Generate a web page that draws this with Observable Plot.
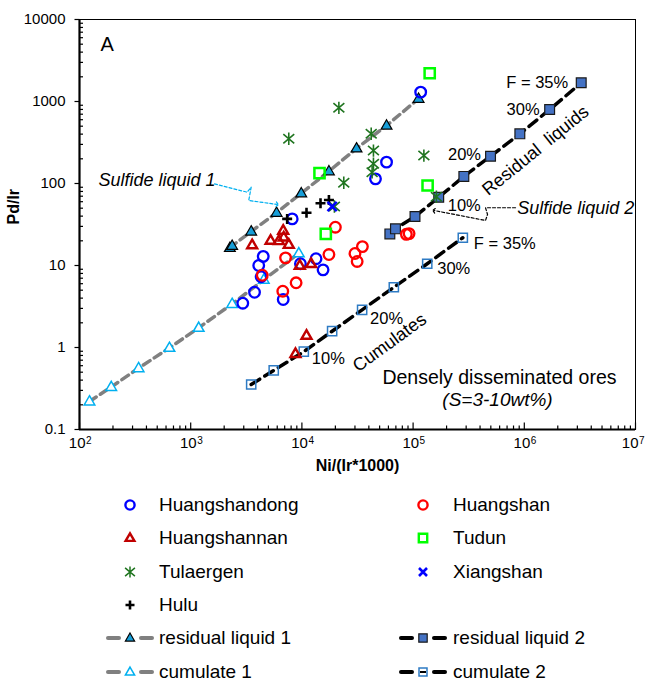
<!DOCTYPE html>
<html>
<head>
<meta charset="utf-8">
<script src="https://cdn.jsdelivr.net/npm/d3@7"></script>
<script src="https://cdn.jsdelivr.net/npm/@observablehq/plot@0.6"></script>
<style>
  html,body{margin:0;padding:0;background:#fff;}
  #wrap{position:relative;width:646px;height:682px;overflow:hidden;font-family:Arial,"Liberation Sans",Helvetica,sans-serif;}
  #chart{position:absolute;left:0;top:0;}
  #legend{position:absolute;left:0;top:485px;width:646px;height:197px;}
  .lg-sym{position:absolute;width:50px;height:30px;}
  .lg-txt{position:absolute;height:30px;line-height:30px;font-size:19px;color:#000;white-space:nowrap;}
</style>
</head>
<body>
<div id="wrap"><div id="chart"></div><div id="legend"></div></div>
<script>
// ---------- Data: x = Ni/(Ir*1000), y = Pd/Ir ----------
const huangshandongX = [8180, 117000, 57700, 45900, 4490, 4090, 4300, 3750, 2940, 6790, 9700, 13400, 15500];
const huangshandongY = [37, 1300, 182, 114, 12.9, 10, 7.3, 4.72, 3.47, 3.85, 10.5, 12.1, 8.85];
const huangshanX = [4400, 6730, 7130, 8870, 17500, 20000, 30000, 31400, 35000, 87000, 92000];
const huangshanY = [7.6, 4.86, 12.4, 6.15, 13.6, 29.3, 14, 11.2, 17, 24, 24.5];
const huangshannanX = [3570, 5230, 6200, 6860, 6790, 7620, 9570, 12100, 11000, 8750];
const huangshannanY = [17.8, 20.2, 20, 22.1, 26.7, 18, 10, 10.5, 1.4, 0.84];
const tudunX = [14400, 16400, 141000, 135000];
const tudunY = [134, 24.3, 2210, 94.6];
const tulaergenX = [7620, 21500, 23800, 19600, 42000, 44000, 44000, 42800, 125000, 162000];
const tulaergenY = [351, 837, 102, 52.5, 404, 252, 174, 137, 219, 69];
const xiangshanX = [18700];
const xiangshanY = [52.5];
const huluX = [7370, 11000, 14700, 17500];
const huluY = [37, 44, 57.5, 63];
const residual1X = [2250, 2360, 3500, 5920, 9870, 17500, 31000, 57700, 112000];
const residual1Y = [16.4, 17.4, 26, 44, 76, 141, 268, 509, 1080];
const cumulate1X = [123, 193, 340, 644, 1180, 2360, 4540, 9380];
const cumulate1Y = [0.22, 0.33, 0.56, 0.99, 1.74, 3.4, 6.7, 14.1];
const residual2X = [61800, 69400, 104000, 170000, 286000, 497000, 912000, 1690000, 3250000];
const residual2Y = [24.3, 28, 39.6, 68, 122, 215, 403, 798, 1690];
const cumulate2X = [3500, 5580, 10400, 18700, 34800, 67100, 134000, 280000];
const cumulate2Y = [0.354, 0.525, 0.89, 1.58, 2.88, 5.43, 10.5, 21.8];

// ---------- Axis ticks ----------
const xTickExponents = [2, 3, 4, 5, 6, 7];
const yTickValues = [0.1, 1, 10, 100, 1000, 10000];
const yTickLabels = ["0.1", "1", "10", "100", "1000", "10000"];

// ---------- Annotations (data space) ----------
const sulfide1Label = {text: "Sulfide liquid 1", x: 148, y: 109};
const sulfide1Arrow = [[1637, 99], [3220, 78.3], [3500, 90.2], [3325, 62.1], [6000, 55.5]];
const sulfide2Label = {text: "Sulfide liquid 2", x: 863000, y: 50.6};
const sulfide2Arrow = [[834000, 50.6], [448000, 50.6], [467000, 41.9], [448000, 35.4], [154000, 46.9]];
const residualLabel = {text: "Residual  liquids", x: 1.26e6, y: 252};
const cumulateLabel = {text: "Cumulates", x: 61400, y: 1.15};
const percentLabels = ["F = 35%", "30%", "20%", "10%"];
const residual2LabelIdx = [8, 7, 5, 3];
const cumulate2LabelIdx = [7, 6, 4, 2];

// ---------- helpers ----------
const FONT = 'Arial, "Liberation Sans", Helvetica, sans-serif';
const pts = (xs, ys) => xs.map((x, i) => ({x, y: ys[i]}));
const sym = f => ({draw(c, size) { const r = Math.sqrt(size / Math.PI); f(c, r); }});
const symTickUp = sym((c, r) => { c.moveTo(0, 0); c.lineTo(0, -r); });
const symTickLeft = sym((c, r) => { c.moveTo(0, 0); c.lineTo(-r, 0); });
const symTickRight = sym((c, r) => { c.moveTo(0, 0); c.lineTo(r, 0); });
const symStar = sym((c, r) => { const d = r * 0.88; c.moveTo(0, -r); c.lineTo(0, r); c.moveTo(-d, -d * 0.85); c.lineTo(d, d * 0.85); c.moveTo(-d, d * 0.85); c.lineTo(d, -d * 0.85); });
const symX = sym((c, r) => { c.moveTo(-r, -r); c.lineTo(r, r); c.moveTo(-r, r); c.lineTo(r, -r); });
const symPlus = sym((c, r) => { c.moveTo(-r, 0); c.lineTo(r, 0); c.moveTo(0, -r); c.lineTo(0, r); });
const symSquare = sym((c, r) => { c.rect(-r, -r, 2 * r, 2 * r); });
const symTri = sym((c, r) => { const h = r * Math.sqrt(3); c.moveTo(0, -h * 0.62); c.lineTo(r, h * 0.38); c.lineTo(-r, h * 0.38); c.closePath(); });

const xMinor = d3.range(2, 7).flatMap(e => d3.range(2, 10).map(m => m * Math.pow(10, e)));
const yMinor = d3.range(-1, 4).flatMap(e => d3.range(2, 10).map(m => m * Math.pow(10, e)));

const dots = (xs, ys, o) => Plot.dot(pts(xs, ys), {x: "x", y: "y", ...o});
const pct = (xs, ys, i, text, o) => Plot.text([text], {x: () => xs[i], y: () => ys[i], fontSize: 16.5, ...o});
const xLabelMarks = (exps, shift) => [
  Plot.text(exps, {x: d => Math.pow(10, d), frameAnchor: "bottom", text: () => "10", textAnchor: "end", dx: 6 + shift, dy: 18, fontSize: 15}),
  Plot.text(exps, {x: d => Math.pow(10, d), frameAnchor: "bottom", text: d => String(d), textAnchor: "start", dx: 6.5 + shift, dy: 14, fontSize: 10})
];

const chart = Plot.plot({
  width: 646, height: 485,
  marginLeft: 79, marginRight: 11, marginTop: 19, marginBottom: 56,
  x: {type: "log", domain: [1e2, 1e7], axis: null},
  y: {type: "log", domain: [0.1, 1e4], axis: null},
  style: {fontFamily: FONT, background: "white", color: "black", overflow: "visible"},
  marks: [
    // frame and axes
    Plot.frame({stroke: "#000", strokeWidth: 1}),
    Plot.ruleX([100], {stroke: "#000", strokeWidth: 2.2}),
    Plot.ruleY([0.1], {stroke: "#000", strokeWidth: 2.2}),
    Plot.dot(xTickExponents, {x: d => Math.pow(10, d), frameAnchor: "bottom", symbol: symTickUp, r: 7, stroke: "#000", strokeWidth: 1.2, fill: "none"}),
    Plot.dot(xMinor, {x: d => d, frameAnchor: "bottom", symbol: symTickUp, r: 4, stroke: "#000", strokeWidth: 1.2, fill: "none"}),
    Plot.dot(yTickValues, {y: d => d, frameAnchor: "left", symbol: symTickLeft, r: 5, stroke: "#000", strokeWidth: 1.2, fill: "none"}),
    Plot.dot(yMinor, {y: d => d, frameAnchor: "left", symbol: symTickRight, r: 3.5, stroke: "#000", strokeWidth: 1.2, fill: "none"}),
    Plot.text(yTickValues, {y: d => d, frameAnchor: "left", text: (d, i) => yTickLabels[i], textAnchor: "end", dx: -14, fontSize: 15}),
    ...xLabelMarks(xTickExponents.slice(0, -1), 0),
    ...xLabelMarks(xTickExponents.slice(-1), -3),
    Plot.text(["Ni/(Ir*1000)"], {frameAnchor: "bottom", dy: 41, fontWeight: "bold", fontSize: 16}),
    Plot.text(["Pd/Ir"], {frameAnchor: "left", dx: -66, rotate: -90, fontWeight: "bold", fontSize: 16}),

    // model lines
    Plot.line(pts(cumulate1X, cumulate1Y), {x: "x", y: "y", stroke: "#808080", strokeWidth: 3.5, strokeDasharray: "8,5"}),
    Plot.line(pts(residual1X, residual1Y), {x: "x", y: "y", stroke: "#808080", strokeWidth: 3.5, strokeDasharray: "8,5"}),
    Plot.line(pts(cumulate2X, cumulate2Y), {x: "x", y: "y", stroke: "#000", strokeWidth: 3.5, strokeDasharray: "10,6"}),
    Plot.line(pts(residual2X, residual2Y), {x: "x", y: "y", stroke: "#000", strokeWidth: 3.5, strokeDasharray: "10,6"}),

    // model markers
    dots(cumulate1X, cumulate1Y, {symbol: symTri, r: 5.3, fill: "white", stroke: "#00B0F0", strokeWidth: 1.5}),
    dots(residual1X, residual1Y, {symbol: symTri, r: 5.4, fill: "#179ED8", stroke: "#000", strokeWidth: 1.2}),
    dots(cumulate2X, cumulate2Y, {symbol: symSquare, r: 4.6, fill: "none", stroke: "#2E7BC4", strokeWidth: 1.5}),
    dots(residual2X, residual2Y, {symbol: symSquare, r: 4.9, fill: "#4472C4", stroke: "#1a1a1a", strokeWidth: 1.2}),

    // samples
    dots(huangshandongX, huangshandongY, {symbol: "circle", r: 5.3, fill: "none", stroke: "#0000FF", strokeWidth: 2.3}),
    dots(huangshannanX, huangshannanY, {symbol: symTri, r: 5, fill: "none", stroke: "#C00000", strokeWidth: 2.4}),
    dots(tulaergenX, tulaergenY, {symbol: symStar, r: 6.2, fill: "none", stroke: "#207520", strokeWidth: 1.6}),
    dots(huluX, huluY, {symbol: symPlus, r: 5, fill: "none", stroke: "#000", strokeWidth: 2.6}),
    dots(huangshanX, huangshanY, {symbol: "circle", r: 5.3, fill: "none", stroke: "#FF0000", strokeWidth: 2.3}),
    dots(tudunX, tudunY, {symbol: symSquare, r: 5.1, fill: "none", stroke: "#00FF00", strokeWidth: 2.5}),
    dots(xiangshanX, xiangshanY, {symbol: symX, r: 4.6, fill: "none", stroke: "#0000FF", strokeWidth: 2.6}),

    // annotations
    Plot.text(["A"], {frameAnchor: "top-left", dx: 21, dy: 17, fontSize: 20, textAnchor: "start"}),
    Plot.text([sulfide1Label], {x: "x", y: "y", text: "text", textAnchor: "start", fontStyle: "italic", fontSize: 18}),
    Plot.line(sulfide1Arrow, {x: d => d[0], y: d => d[1], stroke: "#00B0F0", strokeWidth: 1.2, strokeDasharray: "3,2", markerEnd: "arrow"}),
    Plot.text([sulfide2Label], {x: "x", y: "y", text: "text", textAnchor: "start", fontStyle: "italic", fontSize: 18}),
    Plot.line(sulfide2Arrow, {x: d => d[0], y: d => d[1], stroke: "#000", strokeWidth: 1.2, strokeDasharray: "3,2", markerEnd: "arrow"}),
    Plot.text([residualLabel], {x: "x", y: "y", text: "text", rotate: -39, fontSize: 18}),
    Plot.text([cumulateLabel], {x: "x", y: "y", text: "text", rotate: -36, fontSize: 18}),

    pct(residual2X, residual2Y, residual2LabelIdx[0], percentLabels[0], {textAnchor: "end", dx: -13}),
    pct(residual2X, residual2Y, residual2LabelIdx[1], percentLabels[1], {textAnchor: "end", dx: -10}),
    pct(residual2X, residual2Y, residual2LabelIdx[2], percentLabels[2], {textAnchor: "end", dx: -9.5, dy: -2}),
    pct(residual2X, residual2Y, residual2LabelIdx[3], percentLabels[3], {textAnchor: "start", dx: 9, dy: 8}),
    pct(cumulate2X, cumulate2Y, cumulate2LabelIdx[0], percentLabels[0], {textAnchor: "start", dx: 11, dy: 6}),
    pct(cumulate2X, cumulate2Y, cumulate2LabelIdx[1], percentLabels[1], {textAnchor: "start", dx: 10, dy: 5}),
    pct(cumulate2X, cumulate2Y, cumulate2LabelIdx[2], percentLabels[2], {textAnchor: "start", dx: 8, dy: 9}),
    pct(cumulate2X, cumulate2Y, cumulate2LabelIdx[3], percentLabels[3], {textAnchor: "start", dx: 8, dy: 7}),

    Plot.text(["Densely disseminated ores"], {frameAnchor: "bottom-right", textAnchor: "end", dx: -19, dy: -46, fontSize: 19.5}),
    Plot.text(["(S=3-10wt%)"], {frameAnchor: "bottom-right", textAnchor: "middle", dx: -138, dy: -24, fontSize: 19, fontStyle: "italic"})
  ]
});
document.getElementById("chart").appendChild(chart);

// ---------- Legend ----------
const legendEntries = [
  {label: "Huangshandong", sym: "circle", r: 4.6, fill: "none", stroke: "#0000FF", sw: 2.4},
  {label: "Huangshan", sym: "circle", r: 4.6, fill: "none", stroke: "#FF0000", sw: 2.4},
  {label: "Huangshannan", sym: symTri, r: 4.4, fill: "none", stroke: "#C00000", sw: 2.4},
  {label: "Tudun", sym: symSquare, r: 4.2, fill: "none", stroke: "#00FF00", sw: 2.4},
  {label: "Tulaergen", sym: symStar, r: 5.6, fill: "none", stroke: "#207520", sw: 1.5},
  {label: "Xiangshan", sym: symX, r: 4, fill: "none", stroke: "#0000FF", sw: 2.6},
  {label: "Hulu", sym: symPlus, r: 4.5, fill: "none", stroke: "#000", sw: 2.6},
  null,
  {label: "residual liquid 1", sym: symTri, r: 4.6, fill: "#179ED8", stroke: "#000", sw: 1.2, line: "#808080"},
  {label: "residual liquid 2", sym: symSquare, r: 4.2, fill: "#4472C4", stroke: "#1a1a1a", sw: 1.2, line: "#000"},
  {label: "cumulate 1", sym: symTri, r: 4.6, fill: "#fff", stroke: "#00B0F0", sw: 1.5, line: "#808080"},
  {label: "cumulate 2", sym: symSquare, r: 4.0, fill: "none", stroke: "#2E7BC4", sw: 1.5, line: "#000"}
];
const legend = d3.select("#legend");
const colSym = [105, 398], colTxt = [159, 453];
legendEntries.forEach((e, i) => {
  if (!e) return;
  const col = i % 2, row = Math.floor(i / 2);
  const cy = 20 + row * 33.3;
  const svg = legend.append("svg").attr("class", "lg-sym").attr("width", 50).attr("height", 30)
    .style("left", colSym[col] + "px").style("top", (cy - 15) + "px");
  if (e.line) {
    svg.append("line").attr("x1", 3).attr("x2", 14).attr("y1", 15).attr("y2", 15)
      .attr("stroke", e.line).attr("stroke-width", 4).attr("stroke-linecap", "round");
    svg.append("line").attr("x1", 36).attr("x2", 47).attr("y1", 15).attr("y2", 15)
      .attr("stroke", e.line).attr("stroke-width", 4).attr("stroke-linecap", "round");
  }
  if (e.sym === "circle") {
    svg.append("circle").attr("cx", 25).attr("cy", 15).attr("r", e.r)
      .attr("fill", e.fill).attr("stroke", e.stroke).attr("stroke-width", e.sw);
  } else {
    svg.append("path").attr("transform", "translate(25,15)")
      .attr("d", d3.symbol(e.sym, Math.PI * e.r * e.r)())
      .attr("fill", e.fill).attr("stroke", e.stroke).attr("stroke-width", e.sw);
  }
  if (e.line === "#000" && e.fill === "none") {
    svg.append("line").attr("x1", 22).attr("x2", 28).attr("y1", 15).attr("y2", 15)
      .attr("stroke", "#000").attr("stroke-width", 2);
  }
  legend.append("div").attr("class", "lg-txt").style("left", colTxt[col] + "px")
    .style("top", (cy - 15) + "px").text(e.label);
});
</script>
</body>
</html>
